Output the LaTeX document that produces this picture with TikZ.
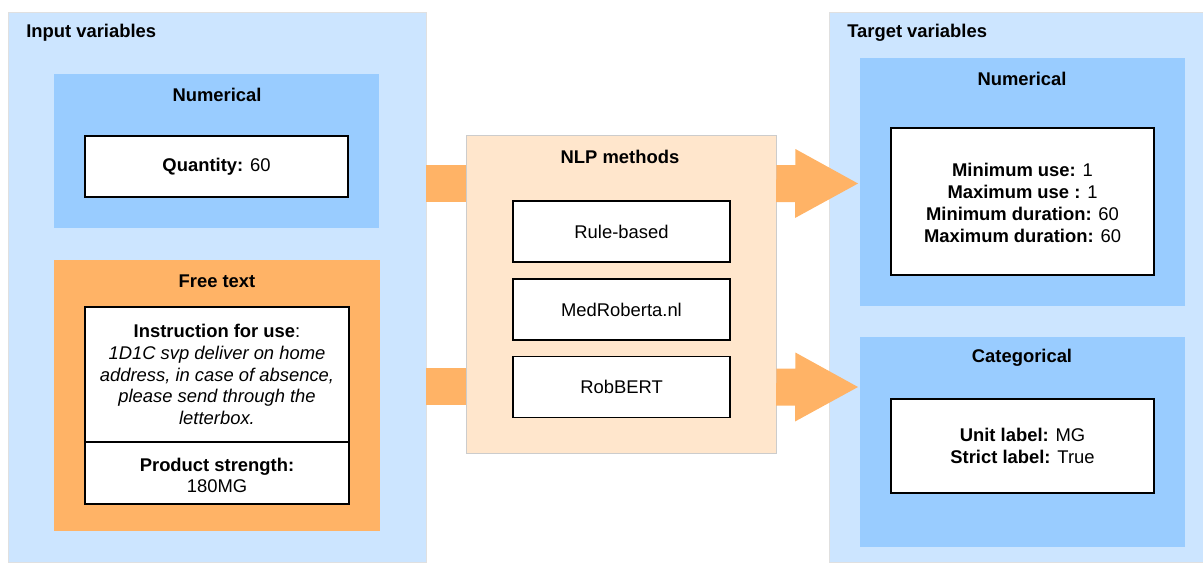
\documentclass[tikz,border=0pt]{standalone}
\usepackage{fontspec}
\setmainfont{Liberation Sans}
\usepackage{tikz}

\definecolor{paleblue}{HTML}{CCE5FF}
\definecolor{midblue}{HTML}{99CCFF}
\definecolor{orangefill}{HTML}{FFB366}
\definecolor{peach}{HTML}{FFE6CC}

\tikzset{
  boxsize/.style 2 args={minimum width=#1*0.75pt, minimum height=#2*0.75pt},
  panel/.style={fill=#1, draw=none, inner sep=0pt},
  whitebox/.style={fill=white, draw=black, line width=0.8pt, inner sep=0pt, align=center},
  txt/.style={font=\fontsize{13.8}{16.3}\selectfont, align=center, inner sep=0pt},
  title/.style={font=\fontsize{13.8}{16}\selectfont\bfseries, inner sep=0pt},
}

\begin{document}
\begin{tikzpicture}[x=0.75pt, y=-0.75pt]
  \useasboundingbox (0,0) rectangle (1203,562);

  % 外枠
  \node[panel=paleblue, boxsize={418}{550}, draw=black!12] (inputbox) at (217,287) {};
  \node[panel=paleblue, boxsize={376}{550}, draw=black!12] (targetbox) at (1017,287) {};
  \node[title, anchor=west] (inputtitle) at (26,33) {Input variables};
  \node[title, anchor=west] (targettitle) at (847,33) {Target variables};

  % 入力: 数値
  \node[panel=midblue, boxsize={325}{154}] (innum) at (216.5,151) {};
  \node[title] (innumtitle) at (217,95) {Numerical};
  \node[whitebox, boxsize={263}{61}, txt] (qty) at (216.5,166.5) {\textbf{Quantity:} 60};

  % 入力: 自由記述
  \node[panel=orangefill, boxsize={326}{271}] (freetext) at (217,395.5) {};
  \node[title] (freetitle) at (217,281) {Free text};
  \node[whitebox, boxsize={264}{135}] (instr) at (217,374.5) {};
  \node[txt] (instrtxt) at (217,374.5) {\textbf{Instruction for use}:\\
    \itshape 1D1C svp deliver on home\\
    \itshape address, in case of absence,\\
    \itshape please send through the\\
    \itshape letterbox.};
  \node[whitebox, boxsize={264}{62}] (strength) at (217,473) {};
  \node[txt] (strengthtxt) at (217,475.5) {\textbf{Product strength:}\\180MG};

  % 左の矢印(NLP枠の下に入る)
  \fill[orangefill] (inputbox.east |- 0,165) rectangle (467,202);
  \fill[orangefill] (inputbox.east |- 0,368) rectangle (467,405);

  % NLP手法
  \node[panel=peach, boxsize={310}{318}, draw=black!20, line width=0.6pt] (nlp) at (621,294) {};
  \node[title] (nlptitle) at (620,157) {NLP methods};
  \foreach \name/\lbl/\ypos in {rule/Rule-based/231.5, medrob/MedRoberta.nl/309.5, robbert/RobBERT/387}
    \node[whitebox, boxsize={217}{61}, txt] (\name) at (621.5,\ypos) {\lbl};

  % 右の矢印
  \foreach \yc/\hw in {183.5/34.5, 387/34.5}
    \fill[orangefill] (nlp.east |- 0,\yc) ++(0,-18.5) -- ++(19,0) -- ++(0,-16) -- (858,\yc)
      -- (795,\yc+\hw) -- ++(0,-16) -- ++(-19,0) -- cycle;

  % 出力: 数値
  \node[panel=midblue, boxsize={325}{248}] (tnum) at (1022.5,182) {};
  \node[title] (tnumtitle) at (1022,79) {Numerical};
  \node[whitebox, boxsize={263}{147}] (tnumbox) at (1022.5,201.5) {};
  \node[txt] (tnumtxt) at (1022.5,203) {\textbf{Minimum use:} 1\\
    \textbf{Maximum use :} 1\\
    \textbf{Minimum duration:} 60\\
    \textbf{Maximum duration:} 60};

  % 出力: カテゴリ
  \node[panel=midblue, boxsize={325}{210}] (tcat) at (1022.5,442) {};
  \node[title] (tcattitle) at (1022,358) {Categorical};
  \node[whitebox, boxsize={263}{94}, txt] (tcatbox) at (1022.5,446)
    {\textbf{Unit label:} MG\\\textbf{Strict label:} True};
\end{tikzpicture}
\end{document}
